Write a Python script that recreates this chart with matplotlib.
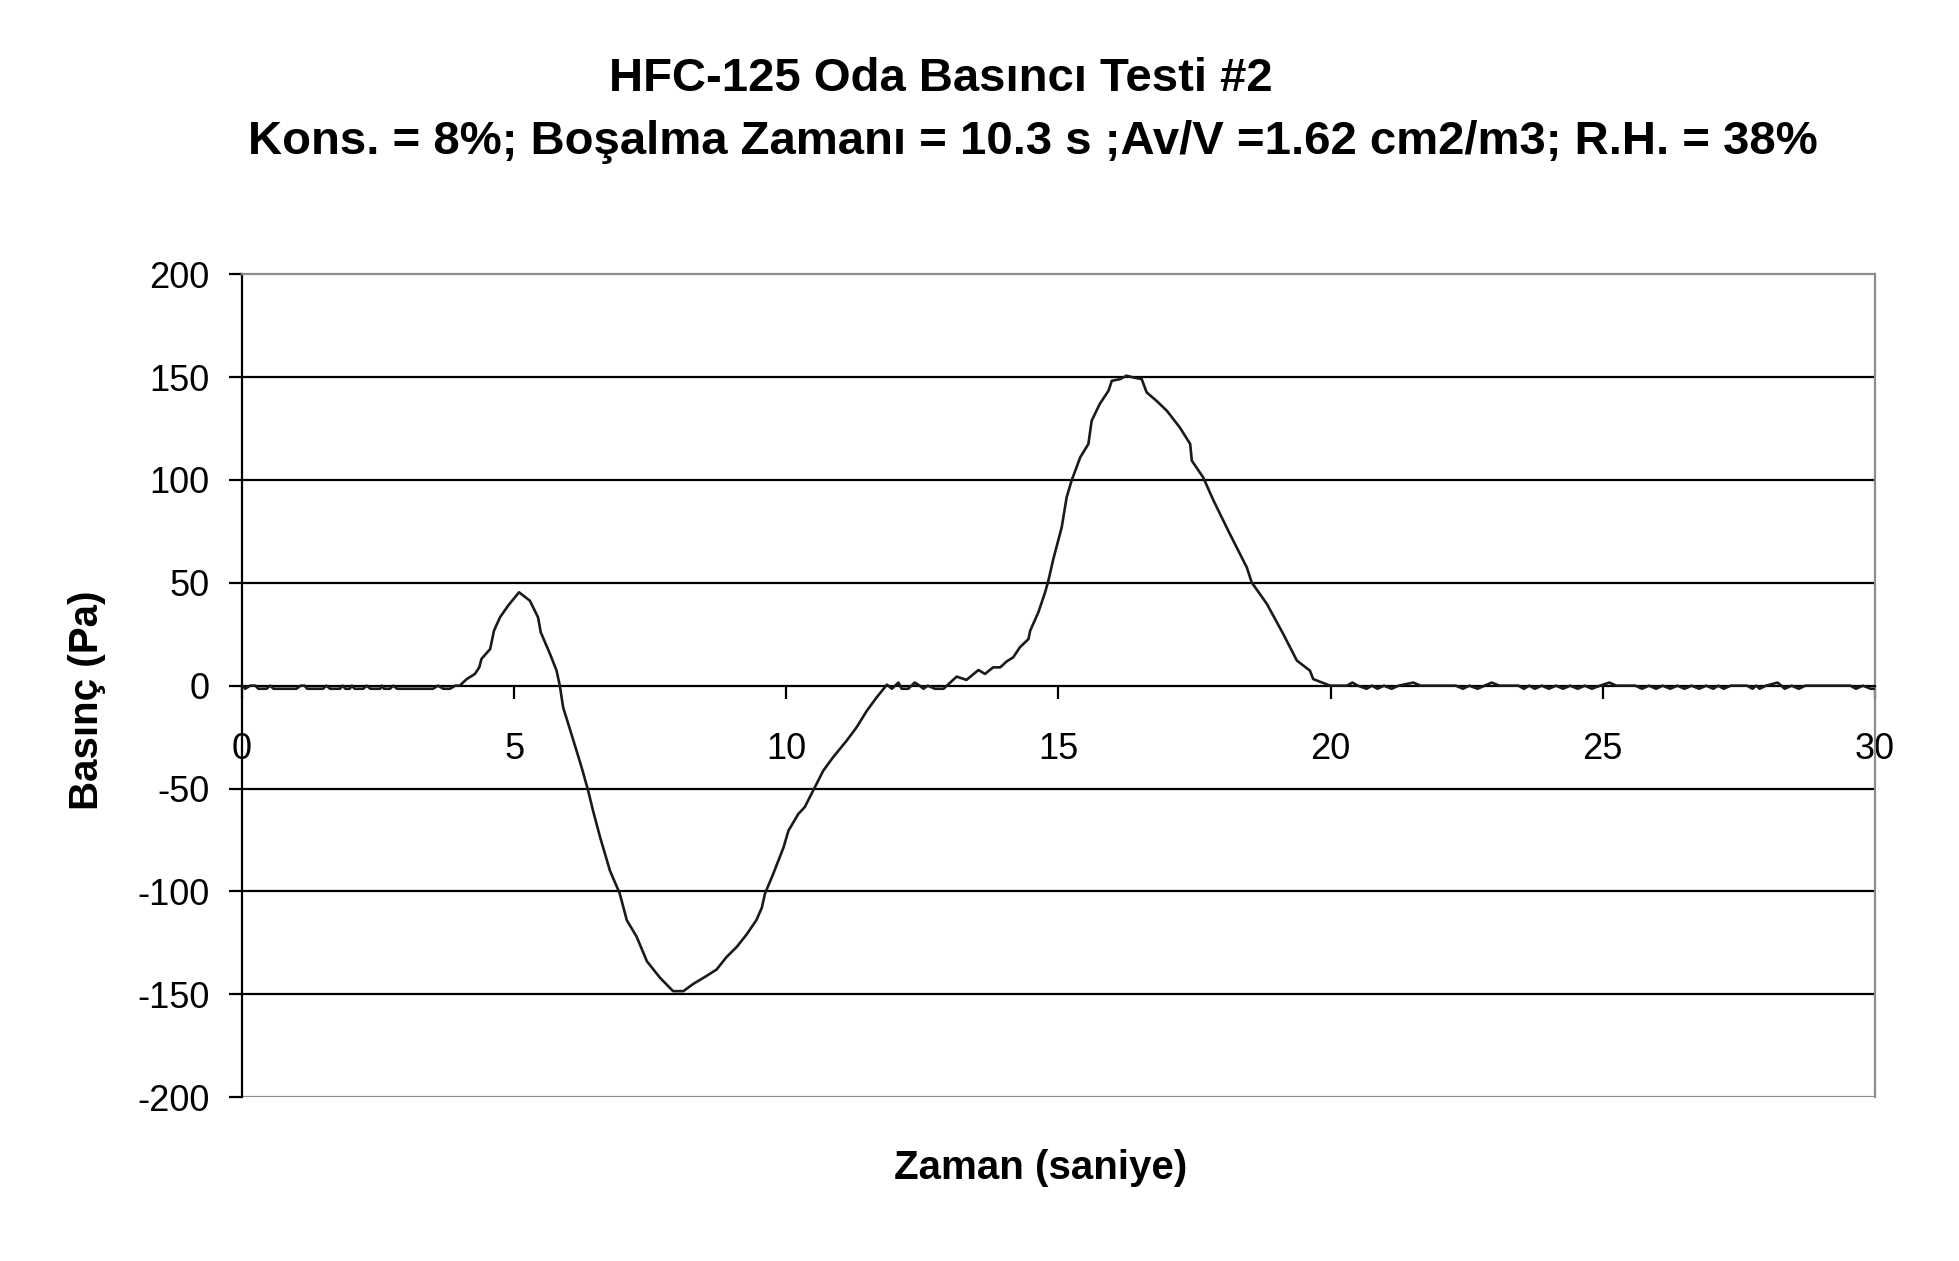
import numpy as np
import matplotlib
matplotlib.use("Agg")
import matplotlib.pyplot as plt

plt.rcParams['font.family'] = ['Liberation Sans', 'DejaVu Sans']
plt.rcParams['axes.unicode_minus'] = False

title1 = "HFC-125 Oda Basıncı Testi #2"
title2 = "Kons. = 8%; Boşalma Zamanı = 10.3 s ;Av/V =1.62 cm2/m3; R.H. = 38%"
xlabel = "Zaman (saniye)"
ylabel = "Basınç (Pa)"

xticks = [0, 5, 10, 15, 20, 25, 30]
yticks = [-200, -150, -100, -50, 0, 50, 100, 150, 200]

# time (s) and pressure (Pa)
zaman = [
    0.0, 0.06, 0.15, 0.25, 0.3, 0.45, 0.52, 0.58, 1.0, 1.08, 1.15, 1.2, 1.49, 1.55,
    1.62, 1.8, 1.85, 1.9, 1.98, 2.02, 2.07, 2.23, 2.29, 2.36, 2.54, 2.57, 2.61, 2.72,
    2.78, 2.85, 3.51, 3.6, 3.7, 3.82, 3.92, 4.0,
    4.13, 4.28, 4.36, 4.40, 4.56, 4.63, 4.74, 4.89, 5.09, 5.29, 5.44, 5.49, 5.66, 5.78,
    5.84, 5.90, 6.09, 6.24, 6.36, 6.45, 6.58, 6.76, 6.94, 7.07, 7.25, 7.44, 7.68, 7.92,
    8.11, 8.29, 8.48, 8.72, 8.90, 9.09, 9.27, 9.45, 9.55, 9.61, 9.76, 9.95, 10.04, 10.22,
    10.34, 10.50, 10.68, 10.86, 11.11, 11.29, 11.48, 11.66, 11.85,
    11.94, 12.0, 12.06, 12.12, 12.24, 12.3, 12.36, 12.45, 12.52, 12.6, 12.73, 12.89, 12.95,
    13.13, 13.31, 13.53, 13.65, 13.80, 13.93, 14.05, 14.17, 14.29, 14.45, 14.48, 14.63,
    14.75, 14.81, 14.91, 15.06, 15.15, 15.24, 15.40, 15.55, 15.61, 15.76, 15.92, 15.98,
    16.13, 16.25, 16.38, 16.53, 16.62, 16.80, 16.99, 17.23, 17.42, 17.45, 17.66, 17.85,
    18.15, 18.46, 18.55, 18.83, 19.13, 19.38, 19.62, 19.68, 19.99,
    20.3, 20.40, 20.5, 20.66, 20.76, 20.86, 20.98, 21.12, 21.25, 21.52, 21.65, 22.3,
    22.43, 22.55, 22.70, 22.83, 22.96, 23.1, 23.45, 23.55, 23.65, 23.75, 23.88, 24.01,
    24.14, 24.27, 24.4, 24.54, 24.67, 24.80, 24.95, 25.12, 25.25, 25.6, 25.72, 25.85,
    25.98, 26.1, 26.24, 26.37, 26.50, 26.63, 26.77, 26.9, 27.03, 27.12, 27.22, 27.35,
    27.65, 27.75, 27.82, 27.88, 28.0, 28.21, 28.28, 28.34, 28.47, 28.60, 28.72, 29.55,
    29.65, 29.78, 29.92, 30.0,
]
basinc = [
    0, -1.5, 0, 0, -1.5, -1.5, 0, -1.5, -1.5, 0, 0, -1.5, -1.5, 0,
    -1.5, -1.5, 0, -1.5, -1.5, 0, -1.5, -1.5, 0, -1.5, -1.5, 0, -1.5, -1.5,
    0, -1.5, -1.5, 0, -1.5, -1.5, 0, 0,
    3.2, 5.7, 8.9, 13, 17.8, 26.7, 33.2, 38.9, 45.4, 41.3, 33.2, 25.9, 15.4, 7.3,
    0, -10.5, -26.7, -39.7, -51, -60.8, -73.7, -89.9, -101, -114, -122, -134, -142, -148.5,
    -148.5, -145, -142, -138, -132, -127, -121, -114, -108, -101, -91.5, -78.6, -70.5, -62.4,
    -59, -50.7, -41.3, -34.8, -26.7, -20.3, -12.2, -5.7, 0.5,
    -1.5, 0, 1.5, -1.5, -1.5, 0, 1.5, 0, -1.5, 0, -1.5, -1.5, 0,
    4.4, 2.8, 7.6, 5.7, 8.9, 8.9, 11.8, 13.8, 18.6, 22.7, 26.7, 35.6,
    45, 50.5, 62, 77, 91.5, 99.6, 111, 117.5, 128.8, 137, 143.4, 148.2,
    149, 150.7, 149.8, 149, 142.6, 138.5, 133.7, 125.5, 117.5, 109.4, 101.2, 89.9,
    73.7, 57.5, 50.2, 39.7, 25.1, 12.2, 7.3, 3.2, 0,
    0, 1.5, 0, -1.5, 0, -1.5, 0, -1.5, 0, 1.5, 0, 0,
    -1.5, 0, -1.5, 0, 1.5, 0, 0, -1.5, 0, -1.5, 0, -1.5,
    0, -1.5, 0, -1.5, 0, -1.5, 0, 1.5, 0, 0, -1.5, 0,
    -1.5, 0, -1.5, 0, -1.5, 0, -1.5, 0, -1.5, 0, -1.5, 0,
    0, -1.5, 0, -1.5, 0, 1.5, 0, -1.5, 0, -1.5, 0, 0,
    -1.5, 0, -1.5, -1.5,
]

fig = plt.figure(figsize=(19.59, 12.61), dpi=100)
ax = fig.add_axes([0.1235, 0.130, 0.8336, 0.6525])

# horizontal grid lines (black), zero line is the x axis itself
for yv in yticks:
    if yv in (-200, 0, 200):
        continue
    ax.axhline(yv, color='black', lw=1.6, zorder=1)
ax.axhline(-200, color='#8c8c8c', lw=1.6, zorder=1)

ax.plot(zaman, basinc, color='#1a1a1a', lw=1.9, zorder=3)

ax.set_xlim(0, 30)
ax.set_ylim(-200, 200)
ax.set_xticks(xticks)
ax.set_yticks(yticks)

ax.spines['bottom'].set_position(('data', 0))
ax.spines['bottom'].set_color('black')
ax.spines['bottom'].set_linewidth(1.6)
ax.spines['left'].set_color('black')
ax.spines['left'].set_linewidth(1.6)
for s in ('top', 'right'):
    ax.spines[s].set_color('#8c8c8c')
    ax.spines[s].set_linewidth(1.6)

ax.tick_params(axis='x', direction='out', length=9.5, width=1.6, pad=24, labelsize=26)
ax.tick_params(axis='y', direction='out', length=9.5, width=1.6, pad=14, labelsize=26)

fig.text(0.480, 0.937, title1, ha='center', va='center', fontsize=34, fontweight='bold')
fig.text(0.527, 0.887, title2, ha='center', va='center', fontsize=34, fontweight='bold')
fig.text(0.531, 0.074, xlabel, ha='center', va='center', fontsize=29, fontweight='bold')
fig.text(0.0444, 0.445, ylabel, ha='center', va='center', fontsize=29, fontweight='bold',
         rotation=90)

fig.savefig("out.png", dpi=100)
